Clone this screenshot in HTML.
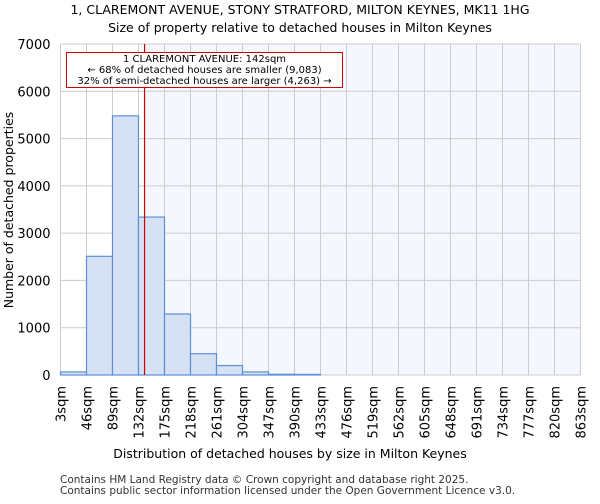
<!DOCTYPE html>
<html><head><meta charset="utf-8"><style>
body{margin:0;background:#fff;font-family:"DejaVu Sans","Liberation Sans",sans-serif}
text{font-family:"DejaVu Sans","Liberation Sans",sans-serif}
</style></head><body>
<svg id="c" width="600" height="500" xmlns="http://www.w3.org/2000/svg">
<text x="300" y="14" text-anchor="middle" font-size="12.5">1, CLAREMONT AVENUE, STONY STRATFORD, MILTON KEYNES, MK11 1HG</text>
<text x="300" y="32" text-anchor="middle" font-size="12.5">Size of property relative to detached houses in Milton Keynes</text>
<g id="plot"></g>
<text x="290" y="458" text-anchor="middle" font-size="12.5">Distribution of detached houses by size in Milton Keynes</text>
<text transform="translate(13,210) rotate(-90)" text-anchor="middle" font-size="12.5">Number of detached properties</text>
<text x="60" y="483" font-size="10.5" fill="#333">Contains HM Land Registry data © Crown copyright and database right 2025.</text>
<text x="60" y="494" font-size="10.5" fill="#333">Contains public sector information licensed under the Open Government Licence v3.0.</text>
</svg>
<script>
const binEdges=[3,46,89,132,175,218,261,304,347,390,433,476,519,562,605,648,691,734,777,820,863];
const counts=[65,2510,5480,3340,1290,450,200,65,15,12,0,0,0,0,0,0,0,0,0,0];
const yTicks=[0,1000,2000,3000,4000,5000,6000,7000];
const propertySize=142;
const X0=60.5,X1=580.5,Y0=375,Y1=44;
const xs=v=>X0+(v-3)/(863-3)*(X1-X0);
const ys=v=>Y0-(v/7000)*(Y0-Y1);
const NS="http://www.w3.org/2000/svg";
const g=document.getElementById('plot');
function mk(t,a,p){const e=document.createElementNS(NS,t);for(const k in a)e.setAttribute(k,a[k]);(p||g).appendChild(e);return e;}
const px=xs(propertySize);
let bg=mk('rect',{x:px,y:Y1,width:X1-px,height:Y0-Y1,fill:'#f4f7fd'});


binEdges.forEach(v=>{let l=mk('line',{x1:xs(v),x2:xs(v),y1:Y1,y2:Y0,stroke:'#cccccc','stroke-width':1});

});
yTicks.forEach(v=>{let l=mk('line',{x1:X0,x2:X1,y1:ys(v),y2:ys(v),stroke:'#cccccc','stroke-width':1});


let t=mk('text',{x:X0-10,y:ys(v)+5,'text-anchor':'end','font-size':13});t.textContent=v;

});
counts.forEach((c,i)=>{if(c<=0)return;const x=xs(binEdges[i]),w=xs(binEdges[i+1])-x;
let r=mk('rect',{x:x,y:ys(c),width:w,height:Y0-ys(c),fill:'#d6e2f3',stroke:'#5b8fd9','stroke-width':1.2});

});
binEdges.forEach(v=>{const x=xs(v)+5;
let tg=mk('g',{transform:'translate('+x+',386) rotate(-90)'});
let t=mk('text',{x:0,y:0,'text-anchor':'end','font-size':13},tg);t.textContent=v+'sqm';

});
let rl=mk('line',{x1:px,x2:px,y1:Y1,y2:Y0,stroke:'#cc0000','stroke-width':1.2});


let box=mk('rect',{x:66.5,y:52.5,width:276,height:35,fill:'#fff',stroke:'#cc0000','stroke-width':1});


['1 CLAREMONT AVENUE: 142sqm','← 68% of detached houses are smaller (9,083)','32% of semi-detached houses are larger (4,263) →'].forEach((s,i)=>{
let t=mk('text',{x:204.5,y:62+i*11,'text-anchor':'middle','font-size':10});t.textContent=s;

});
</script>
</body></html>
